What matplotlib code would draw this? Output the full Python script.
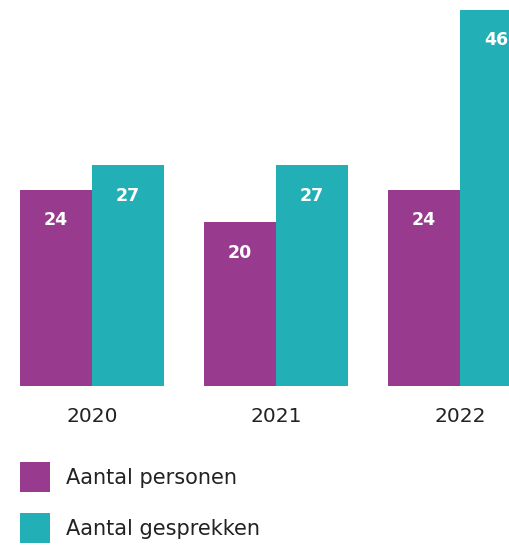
import matplotlib
matplotlib.use("Agg")
import matplotlib.pyplot as plt
from matplotlib.patches import Patch
import numpy as np

years = ["2020", "2021", "2022"]
personen = [24, 20, 24]
gesprekken = [27, 27, 46]
series_names = ["Aantal personen", "Aantal gesprekken"]
colors = ["#983A8E", "#22AFB5"]

plt.rcParams['font.family'] = ['DejaVu Sans']

W, H = 509, 545
fig = plt.figure(figsize=(W/100, H/100), dpi=100)
ax = fig.add_axes([0, 1 - 386/H, 1, 386/H])

x = np.arange(len(years))
bw = 72/184
b1 = ax.bar(x - bw/2, personen, bw, color=colors[0])
b2 = ax.bar(x + bw/2, gesprekken, bw, color=colors[1])

for bars, vals in ((b1, personen), (b2, gesprekken)):
    for r, v in zip(bars, vals):
        ax.annotate(str(v), (r.get_x() + r.get_width()/2, v), xytext=(0, -22),
                    textcoords='offset points', ha='center', va='center',
                    color='white', fontsize=12.5, fontweight='bold')

ax.set_xlim(-0.5, (W - 92)/184)
ax.set_ylim(0, 386/8.18)
ax.set_xticks(x)
ax.set_xticklabels(years, fontsize=14.5, color='#222222')
ax.tick_params(axis='x', length=0, pad=15)
ax.set_yticks([])
for s in ax.spines.values():
    s.set_visible(False)

handles = [Patch(facecolor=c, edgecolor='none') for c in colors]
fs = 15
px = fs * 100/72
sq = 30/px
fig.legend(handles, series_names, loc='upper left',
           bbox_to_anchor=(20/W, 1 - 462/H), bbox_transform=fig.transFigure,
           frameon=False, fontsize=fs, borderpad=0, borderaxespad=0,
           handlelength=sq, handleheight=(sq - 0.245)/0.65, handletextpad=16/px,
           labelspacing=21/px, labelcolor='#222222')

fig.savefig("out.png", dpi=100)
